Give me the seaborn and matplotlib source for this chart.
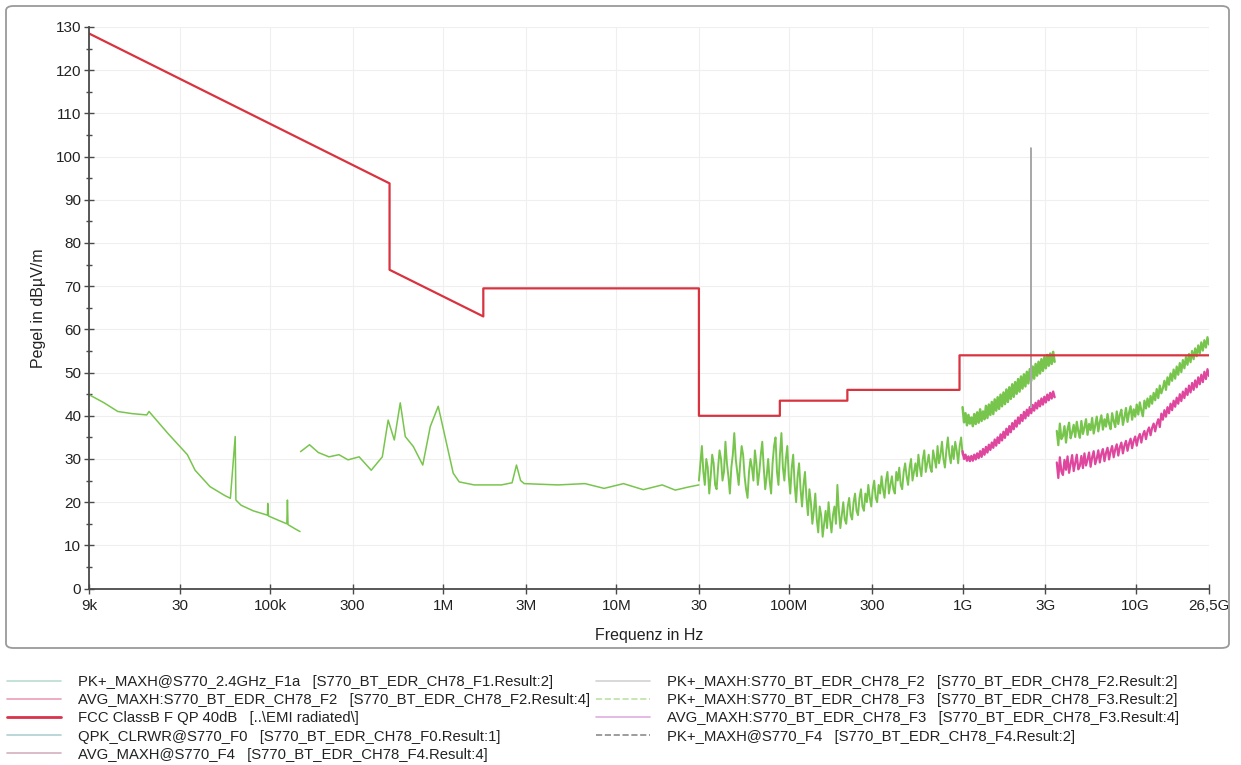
import numpy as np
import pandas as pd
import matplotlib
matplotlib.use("Agg")
import matplotlib.pyplot as plt
from matplotlib.lines import Line2D
from matplotlib.patches import FancyBboxPatch
from matplotlib.ticker import FixedLocator, NullFormatter
import seaborn as sns

# ---------------- data ----------------
tick_freqs = [9e3, 30e3, 100e3, 300e3, 1e6, 3e6, 10e6, 30e6, 100e6, 300e6,
              1e9, 3e9, 10e9, 26.5e9]
tick_labels = ["9k", "30", "100k", "300", "1M", "3M", "10M", "30", "100M",
               "300", "1G", "3G", "10G", "26,5G"]
y_ticks = [0, 10, 20, 30, 40, 50, 60, 70, 80, 90, 100, 110, 120, 130]

# FCC Class B limit (dBuV/m)
limit_freq = [9e3, 490e3, 490e3, 1.705e6, 1.705e6, 30e6, 30e6, 88e6, 88e6,
              216e6, 216e6, 960e6, 960e6, 26.5e9]
limit_level = [128.5, 93.8, 73.8, 63.0, 69.5, 69.5, 40.0, 40.0, 43.5,
               43.5, 46.0, 46.0, 54.0, 54.0]

# F0: 9 kHz .. 150 kHz
f0a_freq = [9e3, 11e3, 13.2e3, 16e3, 19.4e3, 20e3, 21e3, 25.6e3, 33.3e3,
            36.9e3, 45e3, 55e3, 59e3, 62.9e3, 63.5e3, 68e3, 80e3, 96.6e3,
            97e3, 98e3, 115e3, 125e3, 126e3, 127e3, 140e3, 149e3]
f0a_level = [44.9, 43.0, 41.0, 40.5, 40.2, 41.0, 40.0, 36.0, 31.0,
             27.4, 23.6, 21.5, 20.9, 35.2, 20.5, 19.3, 18.0, 17.0,
             19.7, 16.8, 15.6, 15.0, 20.5, 14.8, 13.8, 13.2]

# F0: 150 kHz .. 30 MHz
f0b_freq = [150e3, 169e3, 190e3, 219e3, 250e3, 282e3, 327e3, 384e3, 445e3,
            481e3, 522e3, 565e3, 604e3, 672e3, 762e3, 842e3, 936e3, 1.035e6,
            1.143e6, 1.238e6, 1.51e6, 2.17e6, 2.5e6, 2.65e6, 2.8e6, 2.94e6,
            4.6e6, 6.6e6, 8.5e6, 11e6, 14.3e6, 18.4e6, 21.9e6, 26e6, 30e6]
f0b_level = [31.7, 33.3, 31.5, 30.5, 31.0, 29.8, 30.5, 27.4, 30.5,
             39.0, 34.4, 43.0, 35.2, 32.9, 28.6, 37.5, 42.2, 34.4,
             26.7, 24.7, 24.0, 24.0, 24.5, 28.6, 25.0, 24.3,
             24.0, 24.3, 23.2, 24.3, 22.9, 24.0, 22.8, 23.5, 24.0]

# F2 sweep 30 MHz .. 1 GHz (PK+)
f2_range = (30e6, 1e9)
f2_pk_level = [25, 29, 33, 27, 24, 30, 28, 22, 26, 31,
               29, 24, 23, 28, 32, 30, 25, 27, 34, 29,
               26, 22, 28, 31, 36, 30, 27, 24, 29, 33,
               31, 26, 23, 21, 27, 30, 28, 25, 32, 29,
               24, 27, 31, 34, 28, 23, 26, 30, 25, 22,
               29, 33, 35, 27, 24, 31, 36, 28, 25, 30,
               33, 26, 22, 28, 31, 24, 20, 26, 29, 23,
               19, 24, 27, 21, 17, 23, 20, 15, 18, 22,
               16, 13, 19, 17, 12, 15, 18, 14, 20, 16,
               13, 17, 19, 15, 24, 18, 14, 17, 20, 16,
               15, 19, 21, 17, 16, 20, 22, 18, 17, 21,
               23, 19, 18, 22, 20, 24, 21, 19, 23, 25,
               21, 20, 24, 22, 26, 23, 21, 25, 27, 22,
               24, 26, 23, 22, 27, 25, 28, 24, 23, 27,
               29, 26, 24, 28, 30, 25, 27, 29, 26, 31,
               28, 26, 30, 32, 27, 29, 31, 28, 27, 32,
               30, 28, 33, 29, 31, 34, 30, 28, 32, 35,
               31, 29, 33, 30, 34, 32, 29, 33, 35, 31]

# F3 sweep 1 GHz .. 3.4 GHz
f3_range = (1e9, 3.4e9)
f3_pk_level = [42, 38.5, 40.6, 37.8, 40.2, 38.2, 39.6, 37.6, 40.4, 38.1,
               40.8, 38.4, 41.5, 38.8, 41, 39.2, 42.3, 39.5, 42.6, 40.2,
               43.2, 40.4, 43.8, 41.2, 44.3, 41.6, 44.9, 42.2, 45.4, 42.7,
               46.1, 43.2, 46.6, 43.9, 47.3, 44.4, 47.8, 45.1, 48.5, 45.6,
               49.1, 46.3, 49.6, 46.8, 50.2, 47.5, 50.8, 48.1, 51.4, 48.6,
               52, 49.3, 52.5, 49.8, 53.1, 50.4, 53.6, 51, 54.1, 51.6,
               54.4, 52, 54.8, 52.5]
f3_avg_level = [31.8, 30, 31, 29.6, 30.6, 29.5, 30.7, 29.6, 31, 29.9,
                31.3, 30.2, 31.8, 30.5, 32.3, 31, 32.8, 31.5, 33.3, 32.1,
                33.8, 32.6, 34.5, 33.1, 35, 33.7, 35.7, 34.3, 36.3, 34.9,
                37, 35.6, 37.6, 36.2, 38.3, 36.9, 38.9, 37.5, 39.6, 38.2,
                40.2, 38.8, 40.9, 39.4, 41.4, 40, 42, 40.6, 42.5, 41.2,
                43, 41.7, 43.5, 42.2, 44, 42.6, 44.4, 43.1, 44.9, 43.6,
                45.3, 44, 45.6, 44.3]

# F4 sweep 3.5 GHz .. 26.5 GHz
f4_range = (3.5e9, 26.5e9)
f4_pk_level = [36.5, 33.2, 38.2, 34.6, 35.3, 37.6, 33.8, 36.9, 38.4, 34.8,
               36.2, 37.9, 35.1, 38.6, 36.4, 34.9, 38.8, 35.8, 37.3, 39.2,
               35.6, 38.1, 36.7, 39.5, 35.9, 37.8, 39.8, 36.4, 38.5, 40.1,
               36.8, 39.2, 37.5, 40.4, 38.2, 36.9, 40.6, 38.8, 37.4, 41,
               38.1, 40.2, 41.4, 37.9, 39.6, 41.8, 38.6, 40.7, 42.2, 39.1,
               41.5, 39.8, 42.6, 40.3, 43.1, 41.2, 39.9, 43.5, 41.7, 44,
               42.1, 44.6, 42.8, 45.3, 43.6, 46.2, 44.1, 47, 45.2, 46.4,
               48.1, 46, 48.9, 47.2, 49.8, 48.1, 50.7, 48.6, 51.4, 49.5,
               52.2, 50.1, 52.9, 51, 53.6, 51.8, 54.3, 52.4, 55, 53.1,
               55.6, 53.8, 56.3, 54.4, 57, 55.1, 57.5, 55.8, 58.2, 56.5]
f4_avg_level = [29.2, 25.6, 30.4, 27.1, 26.3, 29.8, 27.5, 30.6, 26.8, 28.9,
                30.9, 27.2, 29.1, 31, 27.6, 28.4, 30.7, 27.9, 31.3, 28.5,
                29.9, 31.5, 28.2, 30.4, 31.8, 28.8, 30.1, 32, 29.2, 31.2,
                32.3, 29.5, 31.4, 32.6, 29.9, 31.8, 33, 30.4, 32.2, 33.4,
                30.8, 32.7, 33.8, 31.3, 33.1, 34.2, 31.9, 33.6, 34.7, 32.5,
                34.2, 35.2, 33.1, 34.9, 35.8, 33.8, 35.6, 36.5, 34.6, 36.4,
                37.3, 35.5, 37.2, 38.2, 36.4, 38.1, 39.2, 37.4, 40.5, 39.1,
                41.3, 39.8, 42, 40.6, 42.8, 41.3, 43.5, 42.1, 44.2, 42.8,
                45, 43.4, 45.6, 44.1, 46.3, 44.8, 47, 45.4, 47.6, 46,
                48.2, 46.6, 48.9, 47.3, 49.5, 47.8, 50.2, 48.5, 50.8, 49.2]

# 2.4 GHz carrier (F1a)
f1a_freq = [2.4788e9, 2.48e9, 2.4812e9]
f1a_level = [42, 102, 42]

legend_labels = [
    "PK+_MAXH@S770_2.4GHz_F1a   [S770_BT_EDR_CH78_F1.Result:2]",
    "AVG_MAXH:S770_BT_EDR_CH78_F2   [S770_BT_EDR_CH78_F2.Result:4]",
    "FCC ClassB F QP 40dB   [..\\EMI radiated\\]",
    "QPK_CLRWR@S770_F0   [S770_BT_EDR_CH78_F0.Result:1]",
    "AVG_MAXH@S770_F4   [S770_BT_EDR_CH78_F4.Result:4]",
    "PK+_MAXH:S770_BT_EDR_CH78_F2   [S770_BT_EDR_CH78_F2.Result:2]",
    "PK+_MAXH:S770_BT_EDR_CH78_F3   [S770_BT_EDR_CH78_F3.Result:2]",
    "AVG_MAXH:S770_BT_EDR_CH78_F3   [S770_BT_EDR_CH78_F3.Result:4]",
    "PK+_MAXH@S770_F4   [S770_BT_EDR_CH78_F4.Result:2]",
]
legend_colors = ["#b9ddd0", "#ec9cba", "#d8334a", "#aed0d2", "#d3b0bd",
                 "#d2d2d2", "#bfe0a8", "#dfaee0", "#8c8c8c"]
legend_styles = ["-", "-", "-", "-", "-", "-", "--", "-", "--"]
legend_widths = [1.2, 1.2, 2.0, 1.2, 1.2, 1.2, 1.2, 1.2, 1.2]

# ---------------- style ----------------
sns.set_theme(style="white")
plt.rcParams["font.family"] = ["Liberation Sans", "DejaVu Sans"]

GREEN = "#78c54e"
MAGENTA = "#df469e"
RED = "#d8333f"

fig = plt.figure(figsize=(12.41, 7.65), dpi=100)
W, H = 1241, 765
ax = fig.add_axes([89 / W, 1 - 588.6 / H, (1209 - 89) / W, (588.6 - 27) / H])


def sweep(rng, levels):
    f = np.geomspace(rng[0], rng[1], len(levels))
    return pd.DataFrame({"freq": f, "level": levels})


def draw(df, color, lw, **kw):
    sns.lineplot(data=df, x="freq", y="level", ax=ax, color=color, lw=lw,
                 estimator=None, sort=False, legend=False, **kw)


ax.set_xscale("log")

draw(pd.DataFrame({"freq": f0a_freq, "level": f0a_level}), GREEN, 1.1)
draw(pd.DataFrame({"freq": f0b_freq, "level": f0b_level}), GREEN, 1.1)
draw(sweep(f2_range, f2_pk_level), GREEN, 1.4)
draw(sweep(f3_range, f3_pk_level), GREEN, 1.8)
draw(sweep(f3_range, f3_avg_level), MAGENTA, 1.7)
draw(sweep(f4_range, f4_pk_level), GREEN, 1.6)
draw(sweep(f4_range, f4_avg_level), MAGENTA, 1.6)
draw(pd.DataFrame({"freq": f1a_freq, "level": f1a_level}), "#a9a9a9", 1.2)
draw(pd.DataFrame({"freq": limit_freq, "level": limit_level}), RED, 1.6)

ax.set_xlim(9e3, 26.5e9)
ax.set_ylim(0, 130)
ax.xaxis.set_major_locator(FixedLocator(tick_freqs))
ax.set_xticklabels(tick_labels)
ax.xaxis.set_minor_locator(FixedLocator([]))
ax.xaxis.set_minor_formatter(NullFormatter())
ax.set_yticks(y_ticks)
ax.set_yticks(np.arange(5, 130, 10), minor=True)

ax.grid(True, which="major", color="#efefef", lw=0.8)
for s in ["top", "right"]:
    ax.spines[s].set_visible(False)
for s in ["left", "bottom"]:
    ax.spines[s].set_color("#4a4a4a")
    ax.spines[s].set_linewidth(1.3)

ax.tick_params(axis="both", which="major", direction="inout", length=7,
               width=1.0, color="#4a4a4a", labelsize=11, labelcolor="#222222",
               bottom=True, left=True)
ax.tick_params(axis="y", which="minor", direction="inout", length=5,
               width=1.0, color="#4a4a4a", left=True)
ax.tick_params(axis="x", pad=4)
ax.tick_params(axis="y", pad=2)

ax.set_xlabel("Frequenz in Hz", fontsize=11.5, color="#222222")
ax.set_ylabel("Pegel in dBµV/m", fontsize=11.5, color="#222222")
ax.xaxis.set_label_coords(0.5, -0.07)
ax.yaxis.set_label_coords(-0.038, 0.5)

# outer frame
frame = FancyBboxPatch((6 / W, 1 - 648 / H), (1229 - 6) / W, (648 - 6) / H,
                       boxstyle="round,pad=0,rounding_size=0.006",
                       transform=fig.transFigure, fill=False,
                       edgecolor="#9a9a9a", lw=1.3)
fig.patches.append(frame)

handles = [Line2D([], [], color=c, ls=s, lw=w)
           for c, s, w in zip(legend_colors, legend_styles, legend_widths)]
leg = fig.legend(handles, legend_labels, loc="upper left",
                 bbox_to_anchor=(7 / W, 1 - 675 / H), ncol=2, frameon=False,
                 fontsize=10.75, handlelength=3.6, handletextpad=1.15,
                 columnspacing=0.4, labelspacing=0.28, borderaxespad=0,
                 borderpad=0)
for t in leg.get_texts():
    t.set_color("#222222")

fig.savefig("out.png", dpi=100)
